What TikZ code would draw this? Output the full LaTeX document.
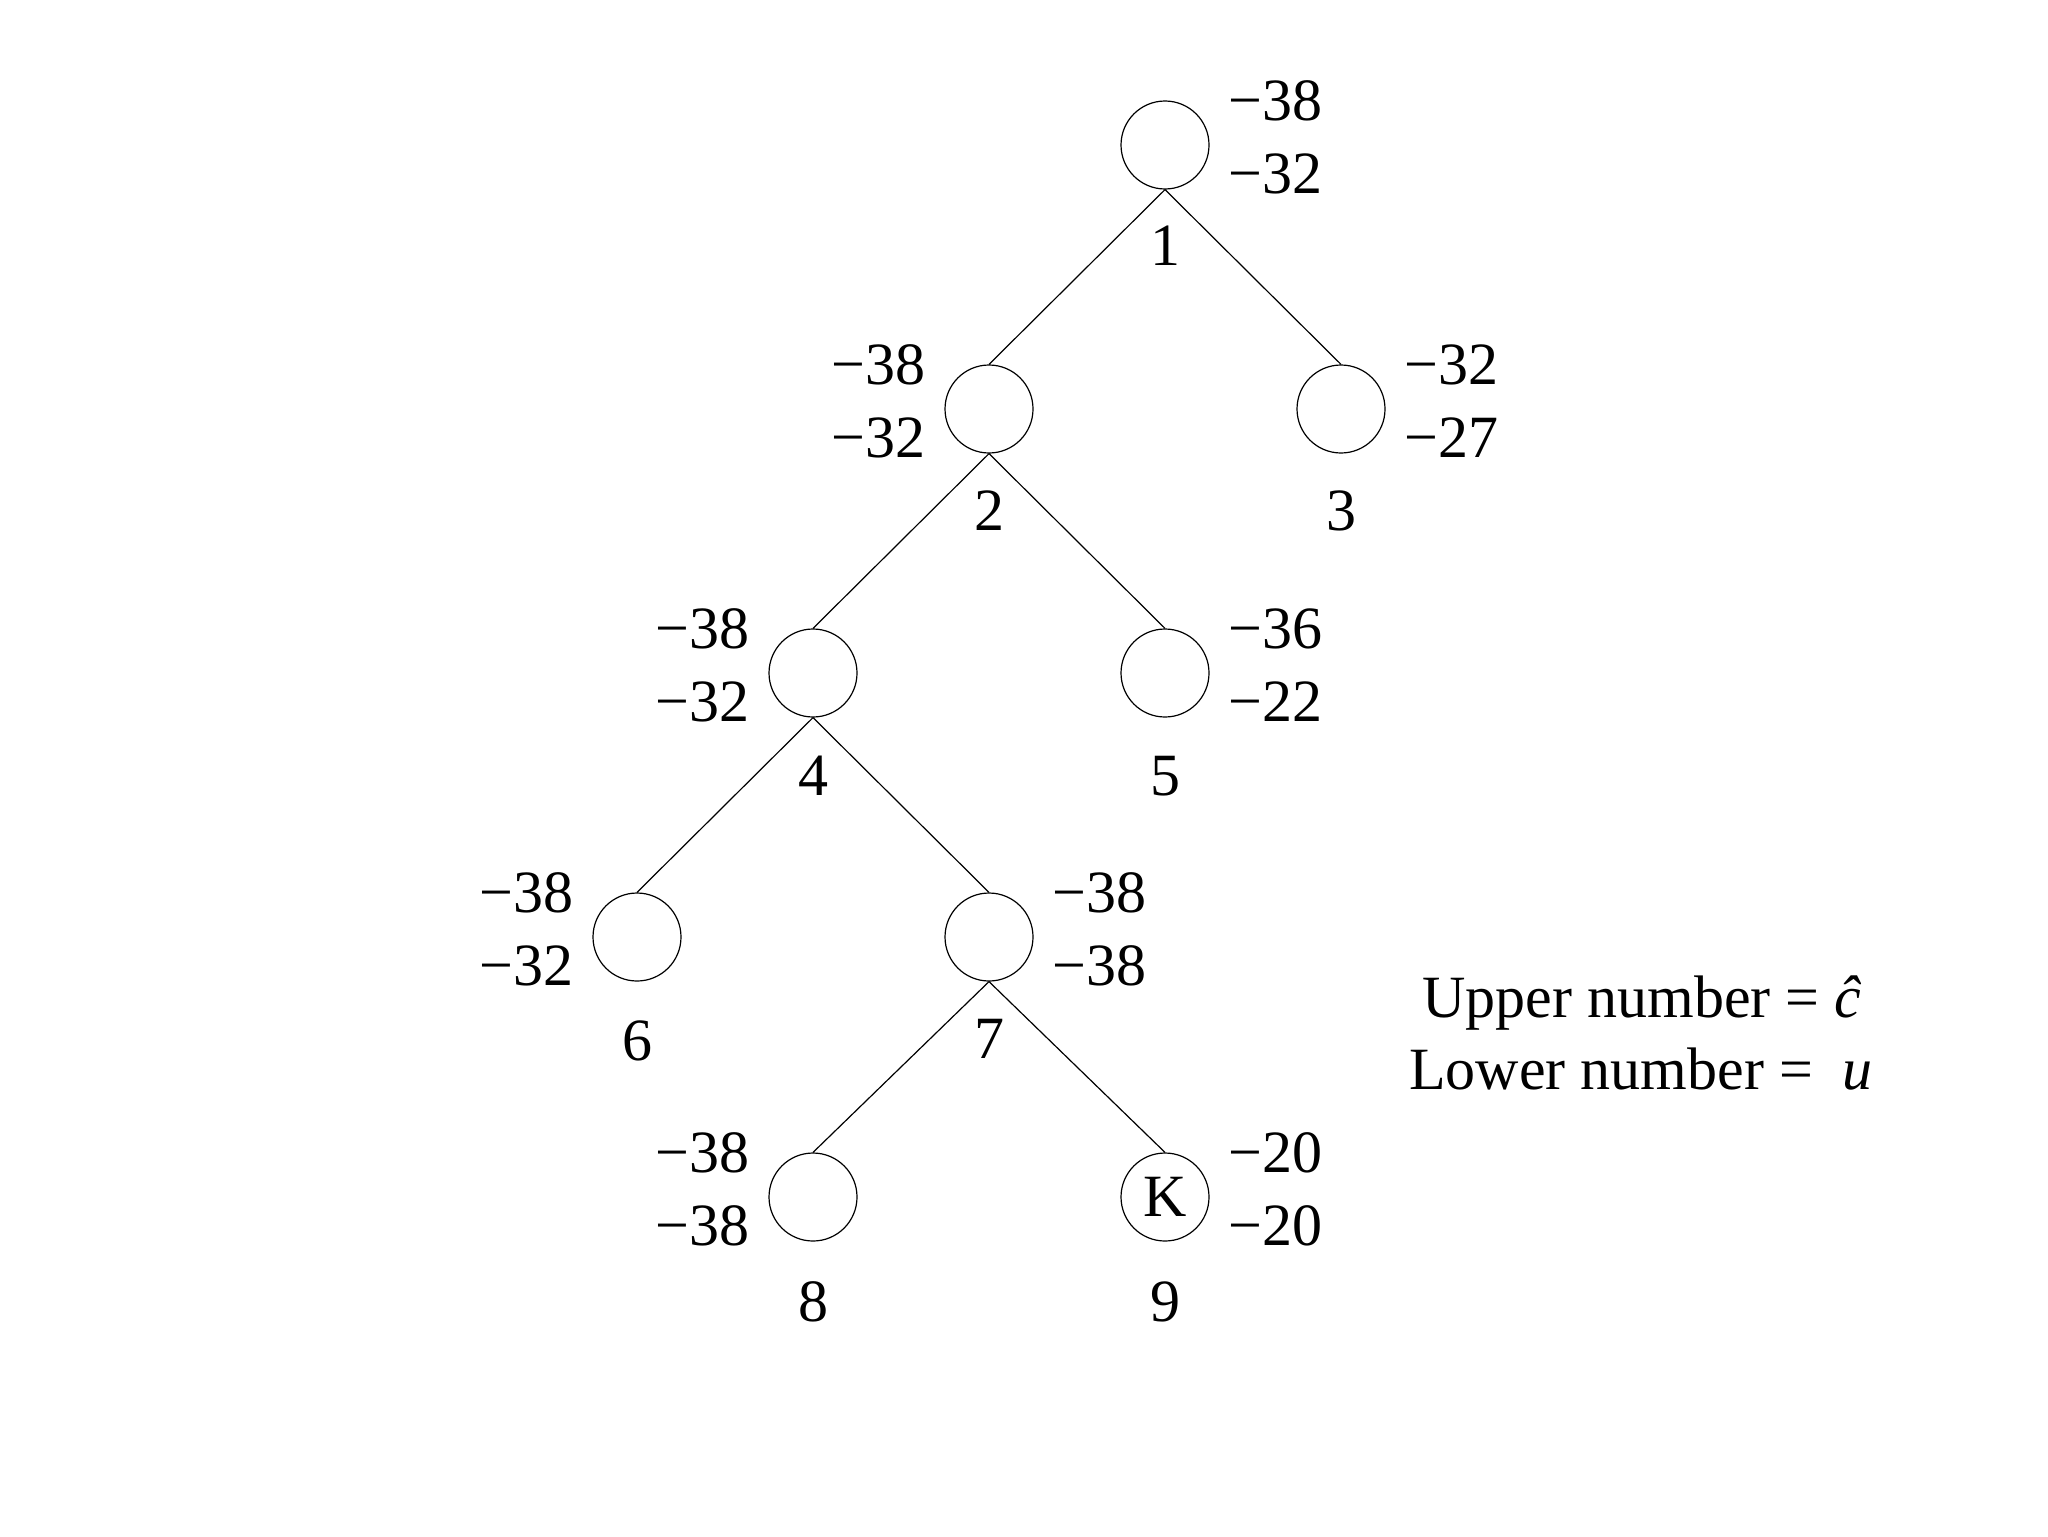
\documentclass[tikz,border=0pt]{standalone}
\usepackage{fontspec}
\setmainfont{Liberation Serif}
\begin{document}
\begin{tikzpicture}[x=0.5pt,y=-0.5pt,
  every node/.style={font=\fontsize{30}{36}\selectfont},
  tnode/.style={circle,draw,minimum size=44pt,inner sep=0pt,line width=0.6pt},
  conn/.style={line width=0.6pt},
  rv/.style={anchor=west,inner sep=0pt},
  lv/.style={anchor=east,inner sep=0pt},
  idx/.style={inner sep=0pt}]
\useasboundingbox (0,0) rectangle (2048,1536);
% tree nodes
\node[tnode] (n1) at (1165,145) {};
\node[tnode] (n2) at (989,409) {};
\node[tnode] (n3) at (1341,409) {};
\node[tnode] (n4) at (813,673) {};
\node[tnode] (n5) at (1165,673) {};
\node[tnode] (n6) at (637,937) {};
\node[tnode] (n7) at (989,937) {};
\node[tnode] (n8) at (813,1197) {};
\node[tnode] (n9) at (1165,1197) {K};
% edges
\draw[conn] (n1.south) -- (n2.north);
\draw[conn] (n1.south) -- (n3.north);
\draw[conn] (n2.south) -- (n4.north);
\draw[conn] (n2.south) -- (n5.north);
\draw[conn] (n4.south) -- (n6.north);
\draw[conn] (n4.south) -- (n7.north);
\draw[conn] (n7.south) -- (n8.north);
\draw[conn] (n7.south) -- (n9.north);
% index labels
\node[idx] (i1) at (1165,246) {1};
\node[idx] (i2) at (989,511) {2};
\node[idx] (i3) at (1341,511) {3};
\node[idx] (i4) at (813,776) {4};
\node[idx] (i5) at (1165,776) {5};
\node[idx] (i6) at (637,1041) {6};
\node[idx] (i7) at (989,1039) {7};
\node[idx] (i8) at (813,1302) {8};
\node[idx] (i9) at (1165,1302) {9};
% values
\node[rv] (u1) at (1228,101) {−38};
\node[rv] (l1) at (1228,174) {−32};
\node[lv] (u2) at (926,365) {−38};
\node[lv] (l2) at (926,438) {−32};
\node[rv] (u3) at (1404,365) {−32};
\node[rv] (l3) at (1404,438) {−27};
\node[lv] (u4) at (750,629) {−38};
\node[lv] (l4) at (750,702) {−32};
\node[rv] (u5) at (1228,629) {−36};
\node[rv] (l5) at (1228,702) {−22};
\node[lv] (u6) at (574,893) {−38};
\node[lv] (l6) at (574,966) {−32};
\node[rv] (u7) at (1052,893) {−38};
\node[rv] (l7) at (1052,966) {−38};
\node[lv] (u8) at (750,1153) {−38};
\node[lv] (l8) at (750,1226) {−38};
\node[rv] (u9) at (1228,1153) {−20};
\node[rv] (l9) at (1228,1226) {−20};
% legend
\node[inner sep=0pt] (leg1) at (1642,1003) {Upper number = \^{\itshape c}};
\node[inner sep=0pt] (leg2) at (1641,1069) {Lower number = \ {\itshape u}};
\end{tikzpicture}
\end{document}
